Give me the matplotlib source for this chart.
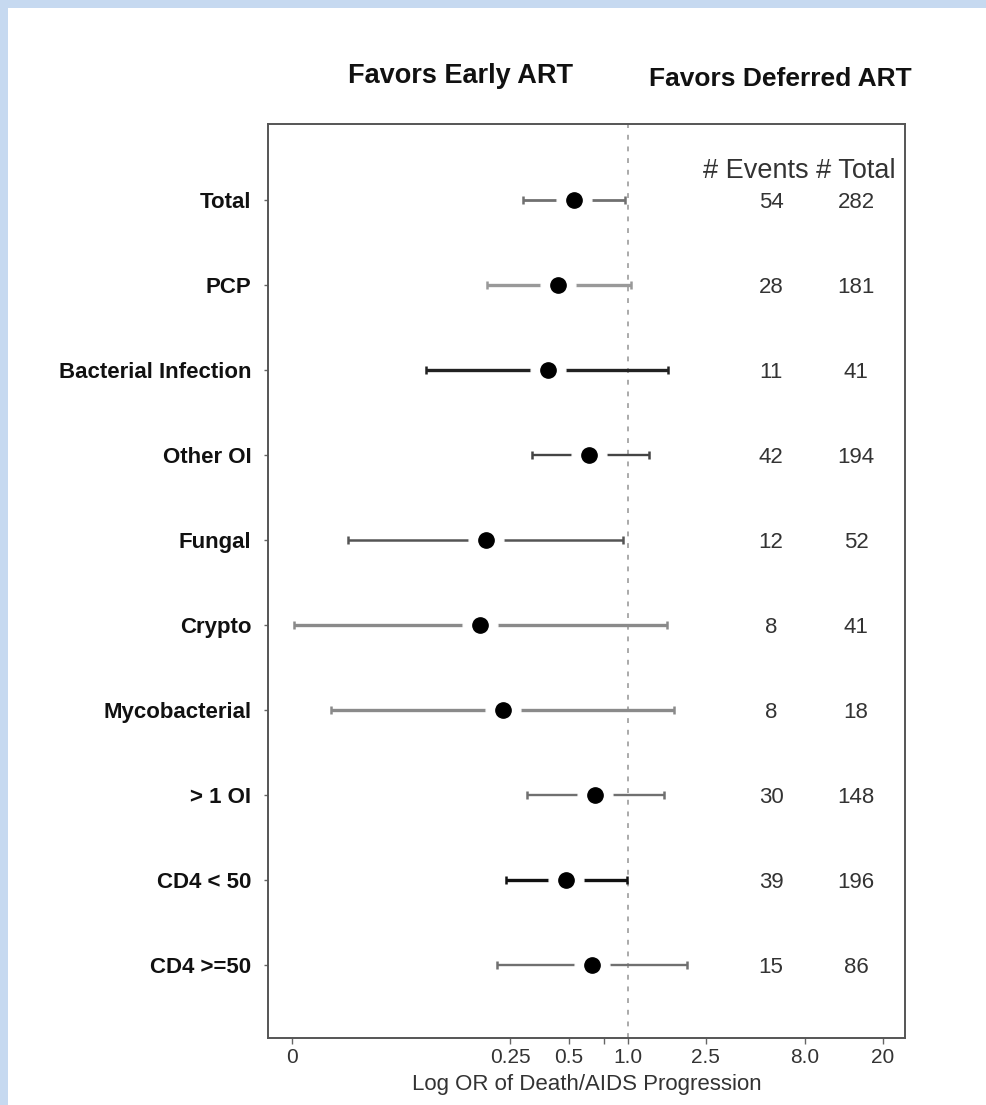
import matplotlib
matplotlib.use("Agg")
import matplotlib.pyplot as plt
import matplotlib.transforms as mtransforms
from matplotlib.patches import Rectangle

plt.rcParams['font.family'] = ['Liberation Sans', 'DejaVu Sans']

# ---- data ----
categories = ["Total", "PCP", "Bacterial Infection", "Other OI", "Fungal",
              "Crypto", "Mycobacterial", "> 1 OI", "CD4 < 50", "CD4 >=50"]
odds_ratio = [0.530, 0.439, 0.390, 0.632, 0.188, 0.175, 0.230, 0.678, 0.482, 0.655]
ci_lower = [0.291, 0.190, 0.093, 0.323, 0.0371, 0.0197, 0.0304, 0.305, 0.238, 0.214]
ci_upper = [0.966, 1.036, 1.60, 1.28, 0.943, 1.58, 1.72, 1.53, 0.988, 2.00]
events = [54, 28, 11, 42, 12, 8, 8, 30, 39, 15]
totals = [282, 181, 41, 194, 52, 41, 18, 148, 196, 86]
tick_values = [0.0192, 0.25, 0.5, 0.75, 1.0, 2.5, 8.0, 20.0]
tick_labels = ["0", "0.25", "0.5", "", "1.0", "2.5", "8.0", "20"]

# styles per row (line colour, line width in points)
line_colors = ["#707070", "#999999", "#222222", "#444444", "#555555",
               "#8a8a8a", "#8a8a8a", "#707070", "#111111", "#707070"]
line_widths = [2.0, 2.4, 2.4, 1.7, 1.8, 2.4, 2.4, 1.7, 2.4, 1.7]

W, H = 986, 1105
fig = plt.figure(figsize=(W / 100, H / 100), dpi=100)
fig.patch.set_facecolor("#c6d9f0")
fig.add_artist(Rectangle((8 / W, 0), 1 - 8 / W, 1 - 8 / H, transform=fig.transFigure,
                         facecolor="white", edgecolor="none", zorder=-5))

ax = fig.add_axes([268 / W, 1 - 1038 / H, (905 - 268) / W, (1038 - 124) / H])
ax.set_xscale("log")
ax.set_xlim(0.01448, 26.0)
n = len(categories)
ys = list(range(n, 0, -1))
ax.set_ylim(0.141, n + 0.894)

ax.axvline(1.0, color="#aaaaaa", lw=1.4, ls=(0, (2.5, 3.5)), zorder=1)

for i in range(n):
    y = ys[i]
    ax.plot([ci_lower[i], ci_upper[i]], [y, y], color=line_colors[i],
            lw=line_widths[i], solid_capstyle="butt", zorder=2)
    ax.plot([ci_lower[i], ci_upper[i]], [y, y], ls="none", marker="|",
            ms=5.5, mew=1.8, color=line_colors[i], zorder=2)
ax.plot(odds_ratio, ys, ls="none", marker="o", ms=25, color="white",
        mec="white", zorder=3)
ax.plot(odds_ratio, ys, ls="none", marker="o", ms=11, color="black",
        mec="black", zorder=4)

ax.set_yticks(ys)
ax.set_yticklabels(categories, fontsize=16, fontweight="bold", color="#111111")
ax.set_xticks(tick_values)
ax.set_xticklabels(tick_labels, fontsize=15, color="#333333")
ax.xaxis.set_minor_locator(matplotlib.ticker.NullLocator())
ax.tick_params(axis="y", length=3, width=1, color="#666666", pad=9)
ax.tick_params(axis="x", length=4, width=1, color="#666666", pad=3)
ax.set_xlabel("Log OR of Death/AIDS Progression", fontsize=16, color="#333333",
              labelpad=5)
for s in ax.spines.values():
    s.set_color("#555555")
    s.set_linewidth(1.4)

trans = mtransforms.blended_transform_factory(fig.transFigure, ax.transData)
for i in range(n):
    ax.text(771 / W, ys[i], str(events[i]), transform=trans, ha="center",
            va="center_baseline", fontsize=16, color="#333333")
    ax.text(856 / W, ys[i], str(totals[i]), transform=trans, ha="center",
            va="center_baseline", fontsize=16, color="#333333")
fig.text(799 / W, 1 - 168 / H, "# Events # Total", ha="center",
         va="center_baseline", fontsize=19.5, color="#333333")

fig.text(460 / W, 1 - 73 / H, "Favors Early ART", ha="center",
         va="center_baseline", fontsize=19.5, fontweight="bold", color="#111111")
fig.text(780 / W, 1 - 76 / H, "Favors Deferred ART", ha="center",
         va="center_baseline", fontsize=19, fontweight="bold", color="#111111")

fig.savefig("out.png", dpi=100)
